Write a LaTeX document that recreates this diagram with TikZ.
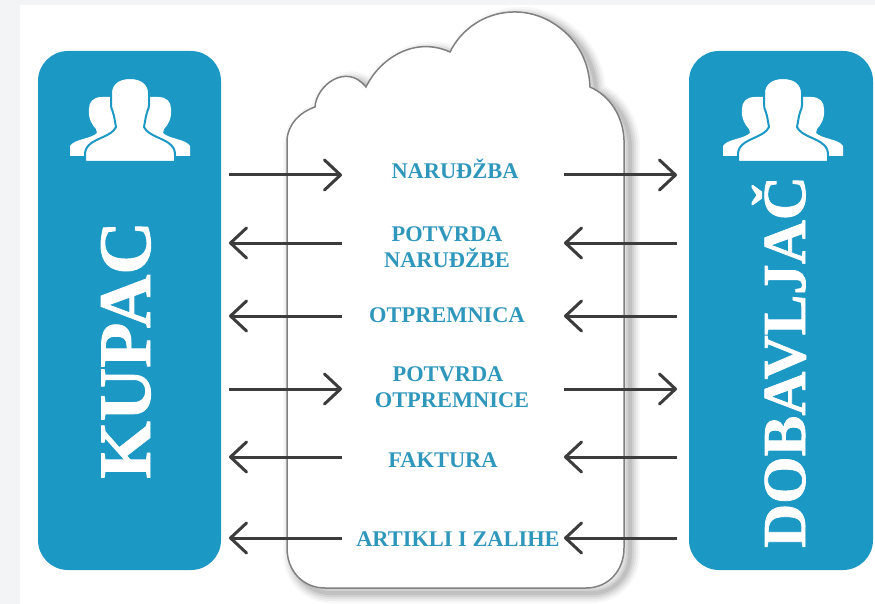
\documentclass[tikz,border=0pt]{standalone}
\usepackage{fontspec}
\setmainfont{Liberation Serif}
\newfontfamily\titlefont[FakeBold=1.2]{Liberation Serif Bold}
\usetikzlibrary{arrows.meta}
\definecolor{panelblue}{HTML}{1C98C4}
\definecolor{labelblue}{HTML}{2F97BC}
\definecolor{arrowgray}{HTML}{3C3C3C}
\definecolor{pagegray}{HTML}{F3F4F6}
\definecolor{cloudline}{HTML}{808080}
\tikzset{
  panel/.style={fill=panelblue,draw=none,rounded corners=30pt,inner sep=0pt},
  flowlabel/.style={text=labelblue,font=\bfseries\fontsize{22.4}{26.5}\selectfont,align=center,inner sep=0pt},
  sidetitle/.style={text=white,rotate=90,inner sep=0pt,anchor=base},
  flow/.style={draw=arrowgray,line width=3pt,-{Straight Barb[length=16pt,width=30pt,line width=3pt,round]}},
  pics/sideperson/.style={code={
    \fill[white] (10,97) -- (28,97) .. controls (37,97) and (41,102) .. (41,109)
      .. controls (42,118) and (38,125) .. (34,129) -- (33,133)
      .. controls (39,139) and (56,139) .. (60,146) -- (60,156) -- (10,156) -- cycle;
  }},
  pics/people/.style={code={
    \pic {sideperson};
    \pic[xscale=-1] {sideperson};
    \fill[white,draw=panelblue,line width=2pt] (0,78)
      .. controls (12,78) and (19,84) .. (19,93) -- (19,105)
      .. controls (19,110) and (16,112) .. (16,116) -- (14,127)
      .. controls (18,136) and (34,138) .. (41,145)
      .. controls (44,148) and (45,151) .. (45,155) -- (45,162) -- (-45,162) -- (-45,155)
      .. controls (-45,151) and (-44,148) .. (-41,145)
      .. controls (-34,138) and (-18,136) .. (-14,127) -- (-16,116)
      .. controls (-16,112) and (-19,110) .. (-19,105) -- (-19,93)
      .. controls (-19,84) and (-12,78) .. (0,78) -- cycle;
  }}
}
\def\cloudshape{(287,140) .. controls (288,124) and (300,112) .. (315,107)
  .. controls (316,86) and (346,62) .. (366,87)
  .. controls (380,58) and (415,36) .. (450,52)
  .. controls (470,12) and (520,0) .. (556,25)
  .. controls (578,40) and (589,62) .. (590,87)
  .. controls (610,96) and (623,116) .. (624,140)
  -- (624,548) .. controls (624,571) and (608,588) .. (586,588)
  -- (325,588) .. controls (303,588) and (287,571) .. (287,548) -- cycle}
\begin{document}
\begin{tikzpicture}[x=1pt,y=-1pt]
\useasboundingbox (0,0) rectangle (875,604);
\fill[pagegray] (0,0) rectangle (875,604);
\fill[white] (20,5) rectangle (875,604);
% cloud shadow
\foreach \w/\o in {20/.03,16/.04,12/.05,8/.06,4/.08}{
  \draw[black,opacity=\o,line width=\w pt,shift={(6,5)}] \cloudshape;
}
\fill[white,draw=cloudline,line width=1.5pt] \cloudshape;
% side panels
\node[panel,minimum width=183pt,minimum height=519pt] (kupacbox) at (129.5,310.5) {};
\node[panel,minimum width=184pt,minimum height=519pt] (dobbox) at (781,310.5) {};
\pic at (130,0) {people};
\pic at (783,0) {people};
\node[sidetitle,font=\titlefont\fontsize{74}{74}\selectfont] (kupac) at (150,350) {KUPAC};
\node[sidetitle,font=\titlefont\fontsize{61}{61}\selectfont] (dobavljac) at (805,362) {DOBAVLJAČ};
% labels
\node[flowlabel] (l1) at (455,169) {NARUĐŽBA};
\node[flowlabel] (l2) at (447,247) {POTVRDA\\NARUĐŽBE};
\node[flowlabel] (l3) at (447,315) {OTPREMNICA};
\node[flowlabel] (l4) at (452,387) {POTVRDA\hspace*{8pt}\\OTPREMNICE};
\node[flowlabel] (l5) at (443,460) {FAKTURA};
\node[flowlabel] (l6) at (458,539) {ARTIKLI I ZALIHE};
% connector ends
\foreach \n/\y in {1/175,2/243,3/316,4/389,5/457,6/538}{
  \coordinate (a\n) at (229,\y);
  \coordinate (b\n) at (342,\y);
  \coordinate (c\n) at (564,\y);
  \coordinate (d\n) at (677,\y);
}
\draw[flow] (a1) -- (b1);
\draw[flow] (c1) -- (d1);
\draw[flow] (b2) -- (a2);
\draw[flow] (d2) -- (c2);
\draw[flow] (b3) -- (a3);
\draw[flow] (d3) -- (c3);
\draw[flow] (a4) -- (b4);
\draw[flow] (c4) -- (d4);
\draw[flow] (b5) -- (a5);
\draw[flow] (d5) -- (c5);
\draw[flow] (b6) -- (a6);
\draw[flow] (d6) -- (c6);
\end{tikzpicture}
\end{document}
